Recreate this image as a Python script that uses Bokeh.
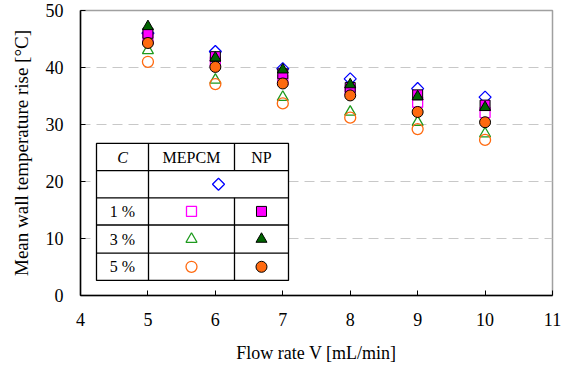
import numpy as np
from bokeh.plotting import figure
from bokeh.models import Range1d, FixedTicker
from bokeh.core.properties import value
from bokeh.embed import file_html
from bokeh.resources import INLINE

# ---- data ----
flow = [5, 6, 7, 8, 9, 10]
base = [46.0, 42.8, 39.8, 38.0, 36.3, 34.8]
mepcm_1 = [45.0, 41.0, 37.8, 35.9, 33.9, 32.1]
mepcm_3 = [43.0, 37.8, 34.8, 32.2, 30.4, 28.4]
mepcm_5 = [41.0, 37.1, 33.7, 31.2, 29.2, 27.3]
np_1 = [46.0, 41.9, 38.9, 36.5, 35.2, 33.4]
np_3 = [47.2, 41.7, 39.6, 37.0, 34.9, 33.0]
np_5 = [44.3, 40.1, 37.2, 35.1, 32.2, 30.4]

x_ticks = [4, 5, 6, 7, 8, 9, 10, 11]
y_ticks = [0, 10, 20, 30, 40, 50]
row_labels = ["1 %", "3 %", "5 %"]
col_labels = ["MEPCM", "NP"]

FONT = "Liberation Serif"
BLUE = "#0000FF"
MAG = "#FF00FF"
GREEN_OPEN = "#1E9A1E"
GREEN_FILL = "#006400"
ORANGE = "#FF6A10"

p = figure(width=561, height=365, output_backend="svg", toolbar_location=None,
           x_range=Range1d(4, 11), y_range=Range1d(0, 50),
           min_border_left=80, min_border_right=9, min_border_top=10, min_border_bottom=66)
p.background_fill_color = "white"
p.border_fill_color = "white"
p.outline_line_color = "#A0A0A0"
p.outline_line_width = 1.5

p.xgrid.visible = False
p.ygrid.ticker = FixedTicker(ticks=[10, 20, 30, 40])
p.ygrid.grid_line_color = "#C8C8C8"
p.ygrid.grid_line_dash = "10 6"
p.ygrid.grid_line_width = 1

for ax in (p.xaxis[0], p.yaxis[0]):
    ax.axis_line_color = "black"
    ax.axis_line_width = 1.5
    ax.major_tick_in = 5
    ax.major_tick_out = 0
    ax.minor_tick_in = 0
    ax.minor_tick_out = 0
    ax.major_tick_line_color = "black"
    ax.major_label_text_font = FONT
    ax.major_label_text_font_size = "18px"
    ax.major_label_text_color = "black"
    ax.axis_label_text_font = FONT
    ax.axis_label_text_font_style = "normal"
    ax.axis_label_text_color = "black"
    ax.major_label_standoff = 17

p.xaxis.axis_label_standoff = 14
p.yaxis.axis_label_standoff = 11
p.xaxis.axis_label_text_font_size = "18px"
p.yaxis.axis_label_text_font_size = "19px"
p.xaxis.ticker = FixedTicker(ticks=x_ticks)
p.yaxis.ticker = FixedTicker(ticks=y_ticks)
p.xaxis.axis_label = "Flow rate V [mL/min]"
p.yaxis.axis_label = "Mean wall temperature rise [°C]"

# ---- data markers ----
p.scatter(flow, base, marker="square", angle=np.pi / 4, size=8.5,
          fill_color=None, line_color=BLUE, line_width=1.3)
p.scatter(flow, mepcm_1, marker="square", size=10, fill_color=None, line_color=MAG, line_width=1.3)
p.scatter(flow, mepcm_3, marker="triangle", size=11, fill_color=None, line_color=GREEN_OPEN, line_width=1.3)
p.scatter(flow, mepcm_5, marker="circle", size=11, fill_color=None, line_color=ORANGE, line_width=1.3)
p.scatter(flow, np_1, marker="square", size=10, fill_color=MAG, line_color="black", line_width=1)
p.scatter(flow, np_3, marker="triangle", size=11, fill_color=GREEN_FILL, line_color="black", line_width=1)
p.scatter(flow, np_5, marker="circle", size=11, fill_color=ORANGE, line_color="black", line_width=1)

# ---- legend table (data-space layout) ----
def X(px):
    return 4 + (px - 81) / 67.43

def Y(py):
    return (295 - py) / 5.66

tl, c1, c2, tr = X(97), X(149), X(235), X(289)
rows = [144, 171, 198, 225, 253, 280]
p.quad(left=tl, right=tr, top=Y(rows[0]), bottom=Y(rows[-1]),
       fill_color="white", line_color="black", line_width=1.3)
for r in rows[1:-1]:
    p.segment(x0=tl, x1=tr, y0=Y(r), y1=Y(r), line_color="black", line_width=1.3)
p.segment(x0=c1, x1=c1, y0=Y(rows[0]), y1=Y(rows[-1]), line_color="black", line_width=1.3)
p.segment(x0=[c2, c2], x1=[c2, c2], y0=[Y(rows[0]), Y(rows[2])], y1=[Y(rows[1]), Y(rows[-1])],
          line_color="black", line_width=1.3)

xc0, xc1, xc2, xm = X(123), X(192), X(262), X(219)
ymid = [Y((rows[i] + rows[i + 1]) / 2) for i in range(5)]

p.text(x=[xc0], y=[ymid[0]], text=["C"], text_font=value(FONT), text_font_size="16px",
       text_font_style="italic", text_align="center", text_baseline="middle", text_color="black")
p.text(x=[xc1, xc2], y=[ymid[0], ymid[0]], text=col_labels, text_font=value(FONT),
       text_font_size="16px", text_align="center", text_baseline="middle", text_color="black")
p.text(x=[xc0] * 3, y=ymid[2:], text=row_labels, text_font=value(FONT),
       text_font_size="16px", text_align="center", text_baseline="middle", text_color="black")

p.scatter([xm], [ymid[1]], marker="square", angle=np.pi / 4, size=8.5,
          fill_color=None, line_color=BLUE, line_width=1.3)
p.scatter([xc1], [ymid[2]], marker="square", size=10, fill_color=None, line_color=MAG, line_width=1.3)
p.scatter([xc1], [ymid[3]], marker="triangle", size=11, fill_color=None, line_color=GREEN_OPEN, line_width=1.3)
p.scatter([xc1], [ymid[4]], marker="circle", size=11, fill_color=None, line_color=ORANGE, line_width=1.3)
p.scatter([xc2], [ymid[2]], marker="square", size=10, fill_color=MAG, line_color="black", line_width=1)
p.scatter([xc2], [ymid[3]], marker="triangle", size=11, fill_color=GREEN_FILL, line_color="black", line_width=1)
p.scatter([xc2], [ymid[4]], marker="circle", size=11, fill_color=ORANGE, line_color="black", line_width=1)

open("out.html", "w").write(file_html(p, INLINE))
